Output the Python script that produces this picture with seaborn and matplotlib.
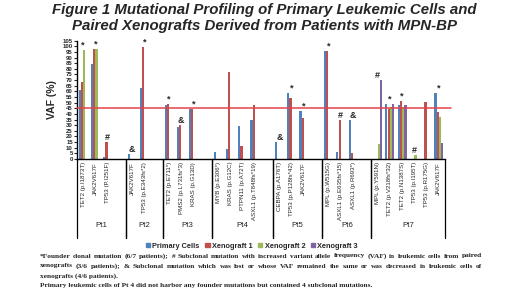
import matplotlib
matplotlib.use("Agg")
import matplotlib.pyplot as plt
import matplotlib.patches as mpatches
import seaborn as sns
import numpy as np
import pandas as pd

sns.set_style("white")
plt.rcParams['font.family'] = ['Liberation Sans', 'DejaVu Sans']

nan = np.nan
patients = ["Pt1", "Pt2", "Pt3", "Pt4", "Pt5", "Pt6", "Pt7"]
patient_of = ["Pt1", "Pt1", "Pt1", "Pt2", "Pt2", "Pt3", "Pt3", "Pt3",
              "Pt4", "Pt4", "Pt4", "Pt4", "Pt5", "Pt5", "Pt5", "Pt6", "Pt6", "Pt6",
              "Pt7", "Pt7", "Pt7", "Pt7", "Pt7", "Pt7"]
mutations = ["TET2 (p.I1873T)", "JAK2V617F", "TP53 (P.I251F)",
             "JAK2V617F", "TP53 (p.E343fs*2)",
             "TET2 (p.E711*)", "PMS2 (p.L731fs*3)", "KRAS (p.G13D)",
             "MYB (p.E306*)", "KRAS (p.G12C)", "PTPN11 (p.A72T)", "ASXL1 (p.T848fs*19)",
             "CEBPA (p.A176T)", "TP53 (p.P128fs*42)", "JAK2V617F",
             "MPL (p.W515G)", "ASXL1 (p.E635fs*15)", "ASXL1 (p.R693*)",
             "MPL (p.Y591N)", "TET2 (p.V218fs*32)", "TET2 (p.N1387S)",
             "TP53 (p.I195T)", "TP53 (p.R175G)", "JAK2V617F"]
primary = [61, 84, 2, 4, 63, 48, 28, 44, 6.5, 9, 29, 34.5, 15, 58.5, 42.5,
           96, 6, 34.5, nan, 48.5, 47.5, nan, nan, 59]
xeno1 = [68, 97.5, 15, nan, 99, 49, 30, 44, nan, 77, 11.5, 48, nan, 54.5, 36,
         96, 34.5, 5.5, nan, 44.5, 51.5, nan, 51, 41.5]
xeno2 = [97, 98, nan, nan, nan, nan, nan, nan, nan, nan, nan, nan, nan, nan, nan,
         nan, nan, nan, 13.5, 46, 46, 3.5, nan, 37]
xeno3 = [nan, nan, nan, nan, nan, nan, nan, nan, nan, nan, nan, nan, nan, nan, nan,
         nan, nan, nan, 70, 48.5, 48, nan, nan, 14]
marks = ["*", "*", "#", "&", "*", "*", "&", "*", "", "", "", "", "&", "*", "*",
         "*", "#", "&", "#", "*", "*", "#", "", "*"]
mark_on = ["Primary Cells", "Primary Cells", "Xenograft 1", "Primary Cells", "Primary Cells",
           "Primary Cells", "Primary Cells", "Primary Cells", "", "", "", "",
           "Primary Cells", "Primary Cells", "Primary Cells", "Primary Cells", "Xenograft 1",
           "Primary Cells", "Xenograft 3", "Primary Cells", "Primary Cells", "Xenograft 2",
           "", "Primary Cells"]
series = ["Primary Cells", "Xenograft 1", "Xenograft 2", "Xenograft 3"]
colors = ["#4F81BD", "#C0504D", "#9BBB59", "#8064A2"]
threshold = 45

keys = [f"{p}|{i}" for i, p in enumerate(patient_of)]
df = pd.DataFrame({"key": keys, "Primary Cells": primary, "Xenograft 1": xeno1,
                   "Xenograft 2": xeno2, "Xenograft 3": xeno3})
long = df.melt(id_vars="key", var_name="sample", value_name="VAF").dropna()

# category order with an empty slot after each patient (as in the excel chart)
order, labels, groups = [], [], []
for p in patients:
    start = len(order)
    for k, m, pp in zip(keys, mutations, patient_of):
        if pp == p:
            order.append(k)
            labels.append(m)
    if p != patients[-1]:
        order.append(p + "|gap")
        labels.append("")
    groups.append((p, start - 0.5, len(order) - 0.5))

fig = plt.figure(figsize=(5.2, 2.92), dpi=100)
ax = fig.add_axes([77/520, 1 - 159/292, 368/520, 118.3/292])

sns.barplot(data=long, x="key", y="VAF", hue="sample", order=order,
            hue_order=series, palette=colors, width=0.74, gap=0.08,
            saturation=1, legend=False, linewidth=0, ax=ax)

ax.set_xlim(-0.5, len(order) - 0.5)
ax.set_ylim(0, 105)
ax.set_yticks(range(0, 106, 5))
ax.set_yticklabels([str(v) for v in range(0, 106, 5)], fontsize=4.3, fontweight="bold")
ax.tick_params(axis="y", length=2, width=0.8, pad=1, direction="out", left=True)
ax.set_xticks(range(len(order)))
ax.set_xticklabels(labels, rotation=90, fontsize=4.4, va="top")
ax.tick_params(axis="x", length=0, pad=2)
ax.set_xlabel("")
ax.set_ylabel("VAF (%)", fontsize=7.5, fontweight="bold", labelpad=4)
sns.despine(ax=ax)
for s in ["left", "bottom"]:
    ax.spines[s].set_linewidth(1.0)
    ax.spines[s].set_color("black")

ax.axhline(threshold, xmin=0, xmax=1.016, color="#E4434A", lw=1.1, clip_on=False, zorder=5)

# patient group boxes
trans = ax.get_xaxis_transform()
for p, x0, x1 in groups:
    for xb in (x0, x1):
        ax.plot([xb, xb], [0, -0.668], transform=trans, color="black", lw=0.9, clip_on=False)
    ax.text((x0 + x1) / 2, -0.56, p, transform=trans, ha="center", va="center", fontsize=5.7)

# markers above bars
bar_x = {}
for cont in ax.containers:
    for bar in cont:
        cx = bar.get_x() + bar.get_width() / 2
        bar_x[(int(round(cx)), cont.get_label())] = cx
for k, m, s, a, b, c, d in zip(keys, marks, mark_on, primary, xeno1, xeno2, xeno3):
    if not m:
        continue
    i = order.index(k)
    top = np.nanmax([a, b, c, d])
    ax.annotate(m, (bar_x.get((i, s), i), top), xytext=(0, 0.3), textcoords="offset points",
                ha="center", va="bottom", fontsize=6.5, fontweight="bold", zorder=6)

handles = [mpatches.Patch(color=c, label=s) for s, c in zip(series, colors)]
fig.legend(handles=handles, loc="center", bbox_to_anchor=(252/520, 1 - 246/292), ncol=4,
           frameon=False, handlelength=0.55, handleheight=0.55,
           handletextpad=0.3, columnspacing=0.8, prop={"weight": "bold", "size": 5.3})

fig.text(0.508, 1 - 10/292, "Figure 1 Mutational Profiling of Primary Leukemic Cells and",
         ha="center", va="center", fontsize=10.8, fontweight="bold", style="italic")
fig.text(0.508, 1 - 26/292, "Paired Xenografts Derived from Patients with MPN-BP",
         ha="center", va="center", fontsize=10.8, fontweight="bold", style="italic")

note = ["*Founder clonal mutation (6/7 patients); # Subclonal mutation with increased variant allele frequency (VAF) in leukemic cells from paired",
        "xenografts (3/6 patients); & Subclonal mutation which was lost or whose VAF remained the same or was decreased in leukemic cells of",
        "xenografts (4/6 patients).",
        "Primary leukemic cells of Pt 4 did not harbor any founder mutations but contained 4 subclonal mutations."]
note_y = [256, 266, 276, 285]
note_kw = dict(fontsize=5.3, fontweight="bold", family="Liberation Serif", va="center")
renderer = fig.canvas.get_renderer()
for j, (line, yp) in enumerate(zip(note, note_y)):
    y = 1 - yp / 292
    if j < 2:
        words = line.split(" ")
        arts = [fig.text(0, y, w, **note_kw) for w in words]
        widths = [a.get_window_extent(renderer).width for a in arts]
        x0, x1 = 40, 482
        gap = (x1 - x0 - sum(widths)) / (len(words) - 1)
        pos = x0
        for a, w in zip(arts, widths):
            a.set_x(pos / 520)
            pos += w + gap
    else:
        fig.text(40 / 520, y, line, **note_kw)

fig.savefig("out.png", dpi=100)
